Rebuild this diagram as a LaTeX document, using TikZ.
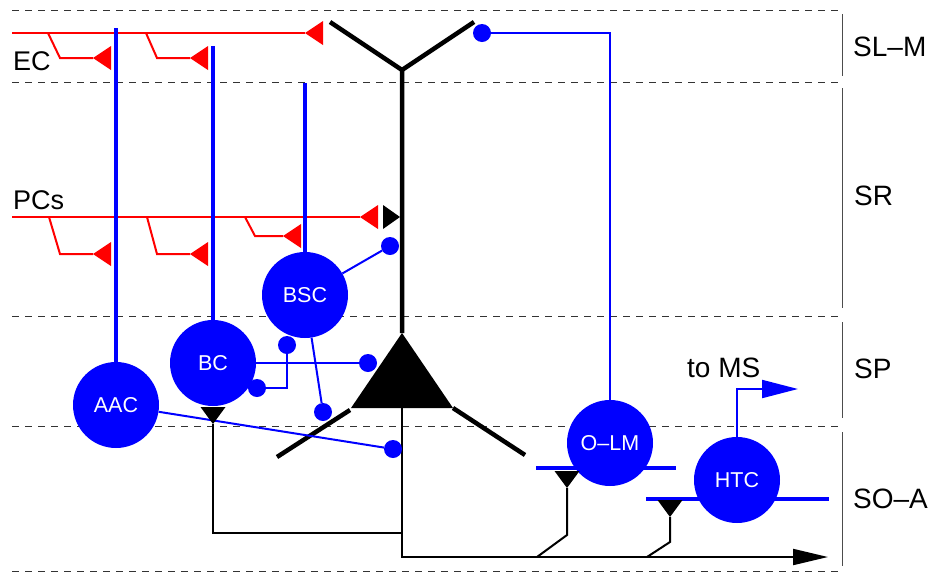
\documentclass[tikz,border=0pt]{standalone}
\usepackage{fontspec}
\setmainfont{Liberation Sans}
\usetikzlibrary{arrows.meta}

\tikzset{
  layerline/.style={black!80, line width=0.9pt, dash pattern=on 7pt off 6pt},
  layerbar/.style={black!70, line width=0.9pt},
  layerlabel/.style={anchor=west, inner sep=0pt, font=\fontsize{28}{32}\selectfont},
  inlabel/.style={anchor=west, inner sep=0pt, font=\fontsize{27}{31}\selectfont},
  redaxon/.style={red, line width=2pt},
  blueaxon/.style={blue, line width=2pt},
  bluedend/.style={blue, line width=4pt},
  blackdend/.style={black, line width=4.5pt},
  blackaxon/.style={black, line width=2pt},
  cell/.style={circle, fill=blue, text=white, minimum size=86pt, inner sep=0pt,
    font=\fontsize{21.5}{25}\selectfont},
  bouton/.style={circle, fill=blue, minimum size=18pt, inner sep=0pt},
  % synapse triangles, tip at the origin
  pics/synleft/.style={code={\fill (0,0) -- (18,-12) -- (18,12) -- cycle;}},
  pics/synright/.style={code={\fill (0,0) -- (-17,-12) -- (-17,12) -- cycle;}},
  pics/syndown/.style={code={\fill (0,0) -- (-12.5,-17) -- (12.5,-17) -- cycle;}},
}

\begin{document}
\begin{tikzpicture}[x=1pt, y=-1pt]
\useasboundingbox (0,0) rectangle (932,574);

% layer boundaries
\foreach \yy in {10,82,316,426,571}
  \draw[layerline] (12,\yy) -- (840,\yy);
\draw[layerbar] (842,14) -- (842,76);
\draw[layerbar] (842,88) -- (842,308);
\draw[layerbar] (842,322) -- (842,418);
\draw[layerbar] (842,432) -- (842,566);
\node[layerlabel] (slm) at (853,46.5) {SL–M};
\node[layerlabel] (sr) at (854,196) {SR};
\node[layerlabel] (sp) at (854,369) {SP};
\node[layerlabel] (soa) at (853,498.5) {SO–A};

% input labels
\node[inlabel] (ec) at (13,61) {EC};
\node[inlabel] (pcs) at (13,200) {PCs};
\node[anchor=west, inner sep=0pt, font=\fontsize{28}{32}\selectfont] (toms) at (687,368) {to MS};

% pyramidal cell
\coordinate (apex) at (402,333);
\coordinate (fork) at (402,70);
\coordinate (tuftL) at (330,22);
\coordinate (tuftR) at (474,22);
\coordinate (baseL) at (351,408);
\coordinate (baseR) at (453,408);
\coordinate (baseC) at (402,408);
\coordinate (basalL) at (277,457);
\coordinate (basalR) at (525,455);
\draw[blackdend] (apex) -- (fork) -- (tuftL);
\draw[blackdend] (fork) -- (tuftR);
\draw[blackdend] (350,410) -- (basalL);
\draw[blackdend] (baseR) -- (basalR);
\fill[black] (apex) -- (baseR) -- (baseL) -- cycle;

% main axon
\coordinate (axbend) at (402,557);
\coordinate (axend) at (828,557);
\draw[blackaxon, -{Triangle[length=35pt,width=16pt]}] (baseC) -- (axbend) -- (axend);

% EC input
\coordinate (ec0) at (12,33);
\coordinate (ec1) at (305,33);
\draw[redaxon] (ec0) -- (ec1);
\pic[red] at (ec1) {synleft};
\draw[redaxon] (48,33) -- (60,58) -- (93,58);
\pic[red] at (93,58) {synleft};
\draw[redaxon] (146,33) -- (157,58) -- (190,58);
\pic[red] at (190,58) {synleft};

% Schaffer collateral input
\coordinate (pc0) at (12,217);
\coordinate (pc1) at (360,217);
\draw[redaxon] (pc0) -- (pc1);
\pic[red] at (pc1) {synleft};
\pic[black] at (400,217) {synright};
\draw[redaxon] (49,217) -- (60,254) -- (93,254);
\pic[red] at (93,254) {synleft};
\draw[redaxon] (147,217) -- (157,254) -- (190,254);
\pic[red] at (190,254) {synleft};
\draw[redaxon] (245,217) -- (255,236) -- (283,236);
\pic[red] at (283,236) {synleft};

% dendrites of O-LM and HTC cells
\draw[bluedend] (536,468) -- (676,468);
\draw[bluedend] (646,499) -- (829,499);

% interneurons
\node[cell] (aac) at (116,405) {AAC};
\node[cell] (bc) at (213,363) {BC};
\node[cell] (bsc) at (305,295) {BSC};
\node[cell] (olm) at (610,443) {O–LM};
\node[cell] (htc) at (737,480) {HTC};

% interneuron dendrites reaching up
\draw[bluedend] (116,28) -- (aac.north);
\draw[bluedend] (213,46) -- (bc.north);
\draw[bluedend] (305,83) -- (bsc.north);

% boutons
\node[bouton] (b1) at (482,33) {};
\node[bouton] (b2) at (390,246) {};
\node[bouton] (b3) at (368,363) {};
\node[bouton] (b4) at (287,345) {};
\node[bouton] (b5) at (257,388) {};
\node[bouton] (b6) at (323,412) {};
\node[bouton] (b7) at (393,449) {};

% interneuron axons
\draw[blueaxon] (b1) -| (olm.north);
\draw[blueaxon] (bsc) -- (b2);
\draw[blueaxon] (bc) -- (b3);
\draw[blueaxon] (b5) -| (b4);
\draw[blueaxon] (bsc) -- (b6);
\draw[blueaxon] (aac) -- (b7);
\coordinate (htcbend) at (737,389);
\coordinate (htcend) at (798,389);
\draw[blueaxon, -{Triangle[length=36pt,width=18pt]}] (htc.north) -- (htcbend) -- (htcend);

% recurrent pyramidal collaterals onto interneurons
\pic[black] at (213,424) {syndown};
\draw[blackaxon] (213,424) -- (213,533) -- (402,533);
\pic[black] at (567,488) {syndown};
\draw[blackaxon] (567,488) -- (567,535) -- (537,557);
\pic[black] at (670,517) {syndown};
\draw[blackaxon] (670,517) -- (670,542) -- (647,557);
\end{tikzpicture}
\end{document}
